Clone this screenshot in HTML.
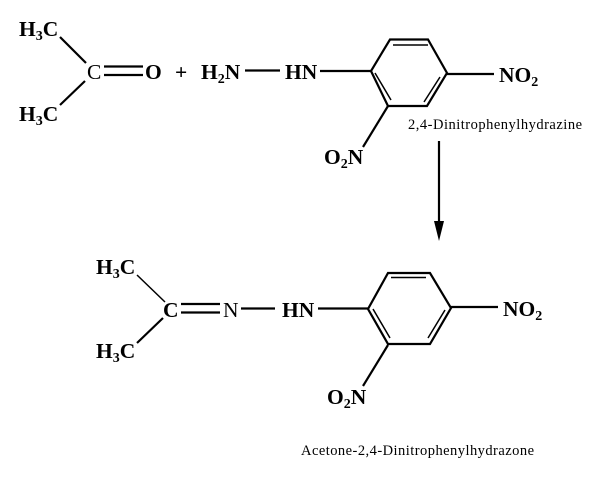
<!DOCTYPE html>
<html>
<head>
<meta charset="utf-8">
<style>
html,body{margin:0;padding:0;background:#fff;width:616px;height:499px;overflow:hidden}
svg{display:block}
text{font-family:"Liberation Serif",serif;fill:#000}
.b{font-weight:bold;font-size:21.5px}
.r{font-size:21.5px}
.s{font-size:14px}
.l{font-size:14.5px}
line,polyline,polygon.o{stroke:#000;fill:none;stroke-width:2.2}
.t{stroke-width:1.5}
</style>
</head>
<body>
<svg width="616" height="499" viewBox="0 0 616 499" xmlns="http://www.w3.org/2000/svg">
<rect width="616" height="499" fill="#fff"/>

<!-- Acetone -->
<text class="b" x="19" y="36">H<tspan class="s" dy="4">3</tspan><tspan dy="-4">C</tspan></text>
<text class="b" x="19" y="121">H<tspan class="s" dy="4">3</tspan><tspan dy="-4">C</tspan></text>
<line x1="60" y1="37" x2="86" y2="63"/>
<line x1="60" y1="105" x2="85" y2="81"/>
<text class="r" x="87" y="79">C</text>
<line x1="104" y1="66.5" x2="143" y2="66.5"/>
<line x1="104" y1="75" x2="143" y2="75"/>
<text class="b" x="145" y="79">O</text>
<text class="b" x="175" y="79">+</text>

<!-- Hydrazine -->
<text class="b" x="201" y="79">H<tspan class="s" dy="4">2</tspan><tspan dy="-4">N</tspan></text>
<line x1="245" y1="70.5" x2="280" y2="70.5"/>
<text class="b" x="285" y="79">HN</text>
<line x1="320" y1="71" x2="371" y2="71"/>
<polygon class="o" points="390,39.5 428,39.5 447,73 427,106 388,106 371,71"/>
<line x1="393" y1="45" x2="428" y2="45" class="t"/>
<line x1="375" y1="73" x2="391" y2="100" class="t"/>
<line x1="440" y1="77" x2="424" y2="102" class="t"/>
<line x1="447" y1="74" x2="494" y2="74"/>
<text class="b" x="499" y="82">NO<tspan class="s" dy="4">2</tspan></text>
<line x1="388" y1="106" x2="363" y2="147"/>
<text class="b" x="324" y="164">O<tspan class="s" dy="4">2</tspan><tspan class="r" dy="-4">N</tspan></text>
<text class="l" x="408" y="129" textLength="174" lengthAdjust="spacing">2,4-Dinitrophenylhydrazine</text>

<!-- Arrow -->
<line x1="439" y1="141" x2="439" y2="228"/>
<polygon points="434,221 444,221 439,241" fill="#000"/>

<!-- Product -->
<text class="b" x="96" y="274">H<tspan class="s" dy="4">3</tspan><tspan dy="-4">C</tspan></text>
<text class="b" x="96" y="358">H<tspan class="s" dy="4">3</tspan><tspan dy="-4">C</tspan></text>
<line x1="137" y1="275" x2="165" y2="302" class="t"/>
<line x1="137" y1="343" x2="163" y2="318"/>
<text class="b" x="163" y="317">C</text>
<line x1="181" y1="304" x2="220" y2="304"/>
<line x1="181" y1="312.5" x2="220" y2="312.5"/>
<text class="r" x="223" y="317">N</text>
<line x1="241" y1="308.5" x2="275" y2="308.5"/>
<text class="b" x="282" y="317">HN</text>
<line x1="318" y1="308.5" x2="368" y2="308.5"/>
<polygon class="o" points="388,273 430,273 451,308 430,344 388,344 368,309"/>
<line x1="391" y1="277.5" x2="426" y2="277.5" class="t"/>
<line x1="373" y1="309" x2="390" y2="338" class="t"/>
<line x1="445" y1="310" x2="428" y2="338" class="t"/>
<line x1="451" y1="307" x2="498" y2="307"/>
<text class="b" x="503" y="316">NO<tspan class="s" dy="4">2</tspan></text>
<line x1="388" y1="345" x2="363" y2="386"/>
<text class="b" x="327" y="404">O<tspan class="s" dy="4">2</tspan><tspan class="r" dy="-4">N</tspan></text>
<text class="l" x="301" y="455" textLength="233" lengthAdjust="spacing">Acetone-2,4-Dinitrophenylhydrazone</text>
</svg>
</body>
</html>
